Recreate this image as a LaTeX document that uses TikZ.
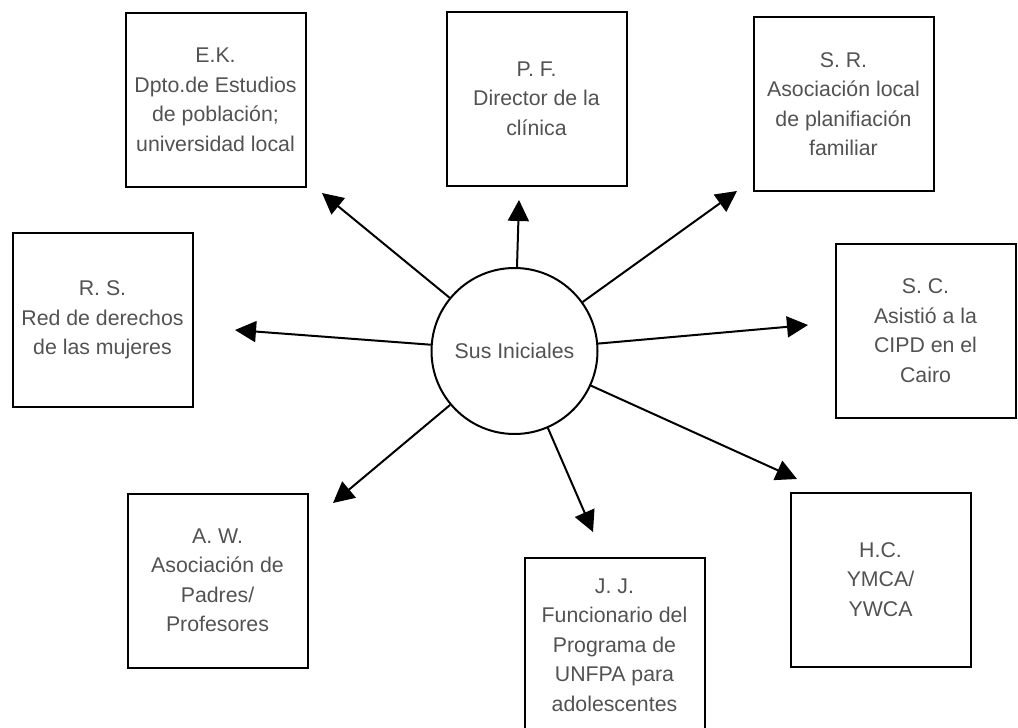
\documentclass[tikz,border=0pt]{standalone}
\usepackage{fontspec}
\setmainfont{Liberation Sans}
\usetikzlibrary{arrows.meta}
\begin{document}
\begin{tikzpicture}[x=1pt,y=-1pt,
  txt/.style={font=\fontsize{21.3}{29.5}\selectfont, text=black!68},
  box/.style={txt, draw=black, line width=2pt, align=center, minimum width=180pt, minimum height=174pt, inner sep=0pt},
  hub/.style={txt, draw=black, line width=2pt, circle, minimum size=166pt, inner sep=0pt},
  arr/.style={line width=2pt, -{Triangle[length=21pt,width=21pt]}}]
\useasboundingbox (0,0) rectangle (1018,728);
\clip (0,0) rectangle (1018,728);
\node[hub] (c) at (514.5,351) {Sus Iniciales};
\node[box] (ek) at (215.5,100) {E.K.\\Dpto.de Estudios\\de población;\\universidad local};
\node[box] (pf) at (536.5,98.5) {P. F.\\Director de la\\clínica};
\node[box] (sr) at (843.5,104) {S. R.\\Asociación local\\de planifiación\\familiar};
\node[box] (rs) at (102.5,320) {R. S.\\Red de derechos\\de las mujeres};
\node[box] (sc) at (925.5,330.5) {S. C.\\Asistió a la\\CIPD en el\\Cairo};
\node[box] (aw) at (217.5,580.5) {A. W.\\Asociación de\\Padres/\\Profesores};
\node[box] (jj) at (614.5,645) {J. J.\\Funcionario del\\Programa de\\UNFPA para\\adolescentes};
\node[box] (hc) at (880.5,579.5) {H.C.\\YMCA/\\YWCA};
\coordinate (tek) at (322,193);
\coordinate (tpf) at (519,200);
\coordinate (tsr) at (737,191);
\coordinate (trs) at (235,330);
\coordinate (tsc) at (808,325);
\coordinate (taw) at (333,503);
\coordinate (tjj) at (593,532);
\coordinate (thc) at (797,479);
\draw[arr] (c) -- (tek);
\draw[arr] (c) -- (tpf);
\draw[arr] (c) -- (tsr);
\draw[arr] (c) -- (trs);
\draw[arr] (c) -- (tsc);
\draw[arr] (c) -- (taw);
\draw[arr] (c) -- (tjj);
\draw[arr] (c) -- (thc);
\end{tikzpicture}
\end{document}
